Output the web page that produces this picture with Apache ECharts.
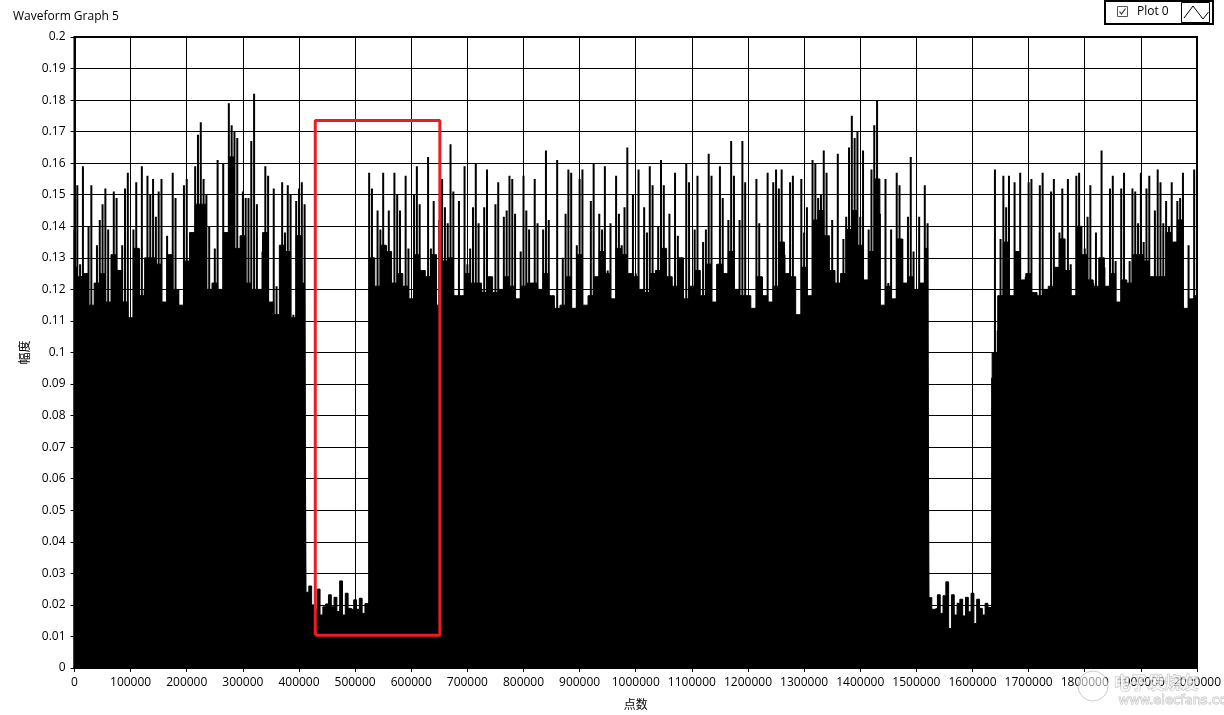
<!DOCTYPE html>
<html><head><meta charset="utf-8">
<script src="https://cdn.jsdelivr.net/npm/echarts@6/dist/echarts.min.js"></script>
<style>html,body{margin:0;padding:0;background:#fff}#c{width:1224px;height:715px}</style>
</head><body><div id="c"></div>
<script>
const chartTitle = 'Waveform Graph 5';
const seriesName = 'Plot 0';
const xAxisName = '点数';
const yAxisName = '幅度';
const xMin = 0, xMax = 2000000, xInterval = 100000;
const yMin = 0, yMax = 0.2, yInterval = 0.01;

// ---- peak amplitude per 5000-sample bin (thin spikes)
const peakStep = 5000;
const region1Start = 0;
const region1 = [0.139,0.153,0.128,0.159,0.121,0.140,0.153,0.101,0.134,0.142,
0.147,0.152,0.139,0.116,0.151,0.149,0.126,0.134,0.152,0.157,
0.111,0.139,0.154,0.133,0.159,0.120,0.156,0.150,0.155,0.143,
0.151,0.155,0.116,0.137,0.131,0.157,0.149,0.120,0.106,0.153,
0.155,0.129,0.138,0.159,0.169,0.173,0.155,0.150,0.140,0.109,
0.133,0.161,0.107,0.160,0.138,0.179,0.172,0.170,0.168,0.131,
0.151,0.149,0.149,0.167,0.182,0.147,0.120,0.132,0.159,0.156,
0.116,0.152,0.121,0.112,0.154,0.138,0.153,0.150,0.112,0.148,
0.152,0.154,0.147];
const region2Start = 525000;
const region2 = [0.157,0.152,0.121,0.145,0.139,0.157,0.134,0.145,0.122,0.157,
0.150,0.145,0.121,0.156,0.133,0.106,0.150,0.159,0.147,0.125,
0.124,0.162,0.133,0.148,0.115,0.142,0.155,0.146,0.141,0.166,
0.151,0.115,0.148,0.115,0.159,0.128,0.133,0.146,0.160,0.141,
0.120,0.146,0.158,0.124,0.114,0.147,0.154,0.120,0.143,0.145,
0.156,0.155,0.144,0.115,0.132,0.156,0.145,0.139,0.122,0.155,
0.141,0.120,0.139,0.164,0.142,0.116,0.113,0.161,0.111,0.130,
0.144,0.158,0.157,0.112,0.134,0.155,0.158,0.107,0.102,0.148,
0.160,0.124,0.144,0.139,0.159,0.126,0.141,0.113,0.156,0.144,
0.134,0.146,0.165,0.111,0.150,0.125,0.158,0.105,0.146,0.138,
0.159,0.153,0.125,0.140,0.161,0.153,0.124,0.144,0.121,0.157,
0.137,0.130,0.115,0.160,0.154,0.121,0.139,0.156,0.117,0.135,
0.139,0.163,0.156,0.113,0.128,0.159,0.149,0.125,0.142,0.167,
0.156,0.119,0.142,0.167,0.154,0.118,0.114,0.112,0.155,0.141,
0.124,0.107,0.157,0.112,0.154,0.158,0.152,0.158,0.131,0.125,
0.154,0.156,0.110,0.107,0.155,0.138,0.146,0.109,0.161,0.160,
0.149,0.150,0.164,0.157,0.125,0.142,0.104,0.163,0.103,0.136,
0.143,0.165,0.175,0.168,0.170,0.143,0.164,0.123,0.139,0.158,
0.172,0.180,0.144,0.111,0.155,0.122,0.139,0.115,0.157,0.153,
0.136,0.122,0.143,0.162,0.132,0.119,0.143,0.105,0.153,0.141];
const region3Start = 1635000;
const region3 = [0.092,0.158,0.107,0.136,0.156,0.146,0.156,0.117,0.154,0.132,
0.157,0.122,0.124,0.154,0.155,0.118,0.108,0.153,0.157,0.119,
0.120,0.151,0.155,0.127,0.138,0.152,0.125,0.155,0.128,0.118,
0.156,0.157,0.129,0.133,0.143,0.153,0.122,0.138,0.120,0.164,
0.127,0.120,0.152,0.156,0.129,0.110,0.152,0.157,0.121,0.129,
0.152,0.151,0.141,0.157,0.135,0.152,0.156,0.124,0.145,0.158,
0.154,0.141,0.148,0.140,0.154,0.135,0.148,0.149,0.157,0.110,
0.134,0.113,0.158,0.117];

// ---- low-amplitude stretches (5000-sample bins, solid fill)
const low1Start = 415000;
const low1 = [0.024,0.026,0.020,0.0185,0.025,0.0168,0.0194,0.0203,0.0232,0.0194,
0.0224,0.0179,0.0276,0.0168,0.0237,0.0189,0.0184,0.0216,0.0186,0.0221,
0.0173,0.0204];
const low2Start = 1525000;
const low2 = [0.0223,0.0186,0.0189,0.0232,0.0173,0.0229,0.0273,0.0125,0.0232,0.0168,
0.0205,0.0218,0.0165,0.0224,0.0178,0.0237,0.0141,0.0218,0.0189,0.0168,
0.0205,0.0192];

// ---- solid "body" level per 10000-sample bin (below this the trace is solid black)
const bodyStep = 10000;
const bodyAStart = 0;
const bodyA = [0.127,0.124,0.125,0.115,0.122,0.125,0.116,0.131,0.126,0.116,
0.111,0.133,0.118,0.130,0.130,0.128,0.116,0.131,0.120,0.115,
0.129,0.138,0.147,0.147,0.120,0.122,0.120,0.138,0.162,0.133,
0.137,0.122,0.120,0.120,0.138,0.116,0.112,0.134,0.132,0.111,
0.137,0.122];
const bodyBStart = 530000;
const bodyB = [0.130,0.121,0.134,0.132,0.122,0.125,0.121,0.117,0.131,0.126,
0.124,0.131,0.115,0.129,0.130,0.118,0.118,0.125,0.122,0.122,
0.119,0.124,0.119,0.120,0.124,0.121,0.117,0.121,0.122,0.122,
0.120,0.125,0.118,0.114,0.115,0.124,0.114,0.131,0.115,0.118,
0.124,0.132,0.125,0.117,0.133,0.131,0.125,0.124,0.120,0.119,
0.125,0.126,0.133,0.124,0.121,0.130,0.117,0.121,0.126,0.118,
0.128,0.116,0.128,0.125,0.132,0.120,0.118,0.118,0.114,0.124,
0.118,0.116,0.121,0.135,0.125,0.124,0.112,0.127,0.118,0.142,
0.145,0.137,0.126,0.122,0.125,0.139,0.145,0.134,0.123,0.132,
0.155,0.115,0.121,0.117,0.136,0.122,0.124,0.120,0.122,0.133];
const bodyCStart = 1640000;
const bodyC = [0.100,0.118,0.135,0.118,0.132,0.123,0.125,0.119,0.118,0.120,
0.121,0.127,0.136,0.126,0.118,0.140,0.131,0.123,0.121,0.130,
0.121,0.125,0.116,0.123,0.122,0.131,0.131,0.129,0.124,0.124,
0.124,0.138,0.135,0.142,0.114,0.117,0.118];

// ---- red highlight rectangle (data units)
const boxX = [429000, 651000];
const boxY = [0.0104, 0.1735];

const toPts = (arr, start, step) => arr.map((v, i) => [start + i * step, v]);
const peakPts = [].concat(toPts(region1, region1Start, peakStep), toPts(region2, region2Start, peakStep), toPts(region3, region3Start, peakStep));
// one continuous solid trace: body / low / body / low / body
const solidPts = [].concat(toPts(bodyA, bodyAStart, bodyStep), toPts(low1, low1Start, peakStep),
  toPts(bodyB, bodyBStart, bodyStep), toPts(low2, low2Start, peakStep), toPts(bodyC, bodyCStart, bodyStep));
const boxPath = [[boxX[0], boxY[0]], [boxX[1], boxY[0]], [boxX[1], boxY[1]], [boxX[0], boxY[1]], [boxX[0], boxY[0]]];

const FONT = 'Open Sans';
const chart = echarts.init(document.getElementById('c'), null, {renderer: 'canvas'});
chart.setOption({
  animation: false,
  backgroundColor: '#fff',
  title: {text: chartTitle, left: 8, top: 6,
    textStyle: {fontFamily: FONT, fontSize: 12, fontWeight: 'normal', color: '#000'}},
  legend: {data: [seriesName], left: 1136, top: 5, padding: 0, itemWidth: 2, itemHeight: 14, itemGap: 0,
    itemStyle: {opacity: 0}, textStyle: {fontFamily: FONT, fontSize: 12, color: '#000', padding: [0, 0, 0, -6]},
    selectedMode: false},
  grid: {left: 74.5, right: 24.5, top: 37, bottom: 47, show: true, borderColor: '#000', borderWidth: 2, backgroundColor: '#fff'},
  xAxis: {type: 'value', min: xMin, max: xMax, interval: xInterval,
    name: xAxisName, nameLocation: 'middle', nameGap: 30,
    nameTextStyle: {fontFamily: 'Noto Sans CJK SC', fontSize: 12, color: '#000'},
    axisLine: {show: true, lineStyle: {color: '#000', width: 2}},
    axisTick: {show: true, length: 4, lineStyle: {color: '#000'}},
    axisLabel: {fontFamily: FONT, fontSize: 12, color: '#000', margin: 9, formatter: v => String(v)},
    splitLine: {show: true, lineStyle: {color: '#000', width: 1}}},
  yAxis: {type: 'value', min: yMin, max: yMax, interval: yInterval,
    name: yAxisName, nameLocation: 'middle', nameGap: 32, nameRotate: 90,
    nameTextStyle: {fontFamily: 'Noto Sans CJK SC', fontSize: 12, color: '#000'},
    axisLine: {show: true, lineStyle: {color: '#000', width: 2}},
    axisTick: {show: true, length: 4, lineStyle: {color: '#000'}},
    axisLabel: {fontFamily: FONT, fontSize: 12, color: '#000', margin: 9, formatter: v => String(+v.toFixed(2))},
    splitLine: {show: true, lineStyle: {color: '#000', width: 1}}},
  series: [
    {type: 'line', name: 'solid', data: solidPts, step: 'middle', symbol: 'none', silent: true,
      lineStyle: {color: '#000', width: 1}, itemStyle: {color: '#000'}, areaStyle: {color: '#000', opacity: 1}, z: 2},
    {type: 'bar', name: seriesName, data: peakPts, barWidth: 2, silent: true, clip: true,
      itemStyle: {color: '#000'}, z: 3},
    {type: 'line', name: 'highlight', data: boxPath, symbol: 'none', silent: true,
      lineStyle: {color: '#ed1c24', width: 3}, z: 5}
  ],
  graphic: [
    {type: 'rect', shape: {x: 1105, y: 1, width: 108, height: 23}, style: {fill: 'none', stroke: '#000', lineWidth: 2}, z: 10},
    {type: 'rect', shape: {x: 1117.5, y: 6.5, width: 10, height: 10}, style: {fill: '#fff', stroke: '#555', lineWidth: 1}, z: 10},
    {type: 'polyline', shape: {points: [[1119.5, 11.5], [1121.5, 14], [1125.5, 8.5]]}, style: {fill: 'none', stroke: '#333', lineWidth: 1.2}, z: 10},
    {type: 'rect', shape: {x: 1181.5, y: 2.5, width: 28, height: 20}, style: {fill: '#fff', stroke: '#000', lineWidth: 1}, z: 10},
    {type: 'polyline', shape: {points: [[1184, 18], [1193, 6], [1203, 19], [1208.5, 12]]}, style: {fill: 'none', stroke: '#000', lineWidth: 1}, z: 11},
    {type: 'circle', shape: {cx: 1093, cy: 686, r: 15}, style: {fill: 'rgba(255,255,255,0.55)', stroke: 'rgba(170,170,170,0.6)', lineWidth: 1}, z: 20},
    {type: 'text', left: 1113, top: 674, style: {text: '电子发烧友', font: 'bold 17px "Noto Sans CJK SC"', fill: 'rgba(255,255,255,0.6)', stroke: 'rgba(170,170,170,0.7)', lineWidth: 1}, z: 20},
    {type: 'text', left: 1118, top: 694, style: {text: 'www.elecfans.com', font: '13px "DejaVu Sans"', fill: 'rgba(255,255,255,0.6)', stroke: 'rgba(170,170,170,0.7)', lineWidth: 1}, z: 20}
  ]
});
</script></body></html>
